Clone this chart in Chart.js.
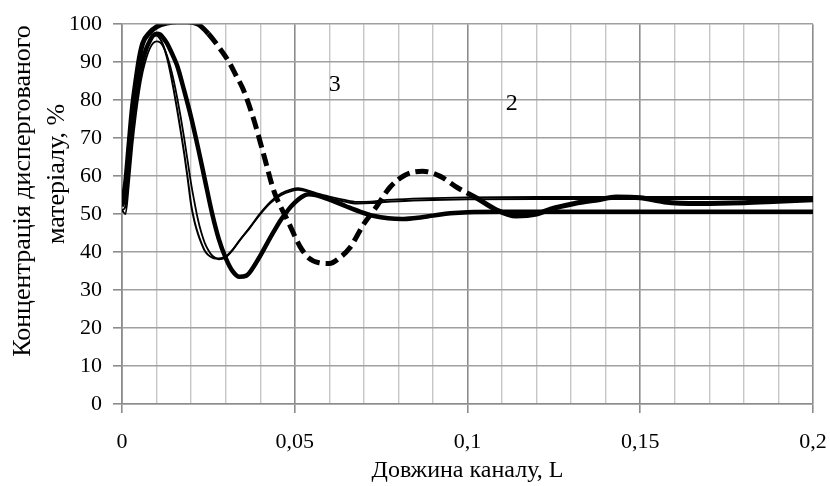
<!DOCTYPE html>
<html>
<head>
<meta charset="utf-8">
<script src="https://cdn.jsdelivr.net/npm/chart.js@4.4.1/dist/chart.umd.min.js"></script>
<style>
  html, body { margin: 0; padding: 0; background: #fff; }
  #wrap { width: 830px; height: 486px; }
</style>
</head>
<body>
<div id="wrap"><canvas id="chart-line"></canvas></div>
<script>
// thin curve
var lenThin = [0, 0.001, 0.002, 0.003, 0.004, 0.005, 0.006, 0.007, 0.008, 0.009, 0.010, 0.011, 0.012, 0.013, 0.014, 0.015, 0.016, 0.017, 0.018, 0.019, 0.020, 0.021, 0.022, 0.023, 0.024, 0.025, 0.026, 0.027, 0.028, 0.030, 0.032, 0.034, 0.037, 0.040, 0.043, 0.046, 0.049, 0.051, 0.054, 0.057, 0.060, 0.064, 0.068, 0.072, 0.076, 0.080, 0.090, 0.100, 0.120, 0.150, 0.200];
var concThin = [51, 50, 58, 68, 76, 82.5, 87.5, 91, 93.5, 95, 95.5, 95.2, 94, 91.8, 88.8, 85, 80.5, 75.5, 70, 64, 58, 53, 48.5, 45, 42.3, 40.5, 39.2, 38.5, 38.1, 38.6, 40.5, 43, 46.5, 50.2, 53.3, 55.4, 56.5, 56.8, 56.2, 55.3, 54.6, 53.8, 53.2, 53.3, 53.7, 53.9, 54.2, 54.4, 54.5, 54.5, 54.5];

// second thin curve, runs beside the thin one on the first fall
var lenThin2 = [0, 0.001, 0.002, 0.003, 0.004, 0.005, 0.006, 0.007, 0.008, 0.009, 0.010, 0.011, 0.012, 0.013, 0.014, 0.015, 0.016, 0.017, 0.018, 0.019, 0.020, 0.021, 0.022, 0.023, 0.024, 0.025, 0.026, 0.027, 0.028, 0.030, 0.032, 0.034, 0.037, 0.040, 0.043, 0.046, 0.049, 0.051, 0.054, 0.057, 0.060, 0.064, 0.068, 0.072, 0.076, 0.080, 0.090, 0.100, 0.120, 0.150, 0.200];
var concThin2 = [51, 52, 62, 72, 80, 86, 90.5, 93.5, 95.5, 96.8, 97, 96.2, 94.3, 91.3, 87.3, 82.5, 77.3, 71.8, 66, 59.5, 52.5, 48, 44.8, 42.3, 40.3, 39.2, 38.6, 38.3, 38.3, 38.8, 40.6, 43, 46.4, 50, 53, 55, 56.1, 56.4, 55.9, 55, 54.2, 53.4, 52.8, 52.9, 53.2, 53.4, 53.7, 53.9, 54, 54, 54];

// thick solid curve
var lenThick = [0, 0.001, 0.002, 0.003, 0.004, 0.005, 0.006, 0.007, 0.008, 0.009, 0.010, 0.011, 0.012, 0.013, 0.014, 0.015, 0.016, 0.018, 0.020, 0.022, 0.024, 0.026, 0.028, 0.030, 0.032, 0.034, 0.036, 0.038, 0.040, 0.042, 0.044, 0.046, 0.048, 0.050, 0.052, 0.054, 0.056, 0.058, 0.061, 0.065, 0.069, 0.073, 0.077, 0.081, 0.085, 0.090, 0.095, 0.100, 0.110, 0.150, 0.200];
var concThick = [52, 56, 65, 74, 81, 86, 90.5, 93.5, 95.5, 97, 97.5, 97.3, 96.3, 95, 93.2, 91.2, 89, 82.5, 75.5, 67.5, 59, 50.5, 43.5, 38.5, 35, 33.5, 33.8, 36, 39, 42.3, 45.5, 48.5, 51, 53, 54.5, 55.2, 55, 54.5, 53.5, 52, 50.6, 49.5, 48.9, 48.7, 49, 49.6, 50.2, 50.5, 50.6, 50.6, 50.6];

// dashed curve (3)
var lenDash = [0, 0.001, 0.002, 0.003, 0.004, 0.005, 0.006, 0.008, 0.010, 0.013, 0.016, 0.019, 0.022, 0.025, 0.028, 0.031, 0.033, 0.035, 0.038, 0.041, 0.044, 0.048, 0.0515, 0.054, 0.057, 0.060, 0.063, 0.066, 0.070, 0.0737, 0.0775, 0.082, 0.087, 0.092, 0.097, 0.1025, 0.108, 0.114, 0.120, 0.124, 0.131, 0.138, 0.143, 0.150, 0.157, 0.167, 0.180, 0.190, 0.200];
var concDash = [53, 58, 68, 78, 85, 91, 95, 97.8, 99.3, 100.3, 100.6, 100.6, 100, 97.5, 94, 90, 86.5, 83, 75.3, 65.7, 56, 48.2, 41.5, 38.5, 37.2, 37, 38.5, 41.2, 47.4, 52, 57, 60.3, 61.3, 60, 57, 54.3, 51.3, 49.5, 50, 51.3, 52.8, 53.8, 54.5, 54.3, 53.2, 52.8, 53, 53.4, 53.8];

// curve numbers written on the plot
var curveTags = ['3', '2'];
var tagLen = [0.0616, 0.1128];
var tagConc = [84, 79];

var yTitleLines = ['Концентрація диспергованого', 'матеріалу, %'];
var xTitle = 'Довжина каналу, L';

function pts(xs, ys) {
  return xs.map(function (x, i) { return { x: x, y: ys[i] }; });
}

function isMajor(v) {
  return Math.round(v * 1000) % 50 === 0;
}

function commaNum(v) {
  var r = Math.round(v * 1000) / 1000;
  return String(r).replace('.', ',');
}

Chart.defaults.font.family = '"Liberation Serif", "Times New Roman", serif';
Chart.defaults.color = '#000';

var textPlugin = {
  id: 'textPlugin',
  afterDraw: function (chart) {
    var c = chart.ctx;
    var xs = chart.scales.x, ys = chart.scales.y;
    c.save();
    c.fillStyle = '#000';
    c.textAlign = 'center';
    c.textBaseline = 'middle';
    c.font = '24px "Liberation Serif"';
    curveTags.forEach(function (t, i) {
      c.fillText(t, xs.getPixelForValue(tagLen[i]), ys.getPixelForValue(tagConc[i]));
    });
    c.font = '26px "Liberation Serif"';
    c.translate(23, 191);
    c.rotate(-Math.PI / 2);
    c.fillText(yTitleLines[0], 0, 0);
    c.fillText(yTitleLines[1], 17, 34);
    c.restore();
  }
};

function curve(label, xs, ys, width) {
  return {
    label: label,
    data: pts(xs, ys),
    borderColor: '#000',
    borderWidth: width,
    pointRadius: 0,
    cubicInterpolationMode: 'monotone',
    fill: false
  };
}

var dashed = curve('3', lenDash, concDash, 5);
dashed.segment = {
  borderDash: function (s) {
    var x = s.p0.parsed.x;
    return (x >= 0.024 && x < 0.099) ? [13, 6] : [];
  }
};

var ctx = document.getElementById('chart-line').getContext('2d');

new Chart(ctx, {
  type: 'line',
  data: {
    datasets: [
      curve('1', lenThin, concThin, 1.8),
      curve('1a', lenThin2, concThin2, 2),
      curve('2', lenThick, concThick, 4.5),
      dashed
    ]
  },
  options: {
    responsive: true,
    maintainAspectRatio: false,
    animation: false,
    layout: { padding: { left: 0, right: 17, top: 22, bottom: 0 } },
    plugins: {
      legend: { display: false },
      tooltip: { enabled: false }
    },
    scales: {
      x: {
        type: 'linear',
        min: 0,
        max: 0.2,
        afterFit: function (s) {
          s.height = 82;
          s.paddingLeft = 0;
          s.paddingRight = 0;
        },
        border: { color: '#8c8c8c', width: 1.6 },
        grid: {
          color: function (c) { return isMajor(c.tick.value) ? '#8c8c8c' : '#c6c6c6'; },
          lineWidth: function (c) { return isMajor(c.tick.value) ? 1.6 : 1.4; },
          tickColor: function (c) { return isMajor(c.tick.value) ? '#8c8c8c' : 'rgba(0,0,0,0)'; },
          tickLength: 9
        },
        ticks: {
          stepSize: 0.01,
          autoSkip: false,
          maxRotation: 0,
          padding: 16,
          font: { size: 22 },
          callback: function (v) { return isMajor(v) ? commaNum(v) : ''; }
        },
        title: {
          display: true,
          text: xTitle,
          font: { size: 24 },
          padding: { top: 0, bottom: 1 }
        }
      },
      y: {
        min: 0,
        max: 100,
        afterFit: function (s) { s.width = 122; },
        border: { color: '#8c8c8c', width: 1.6 },
        grid: {
          color: '#a0a0a0',
          lineWidth: 1.6,
          tickColor: '#8c8c8c',
          tickLength: 9
        },
        ticks: {
          stepSize: 10,
          padding: 11,
          font: { size: 22 }
        }
      }
    }
  },
  plugins: [textPlugin]
});
</script>
</body>
</html>
